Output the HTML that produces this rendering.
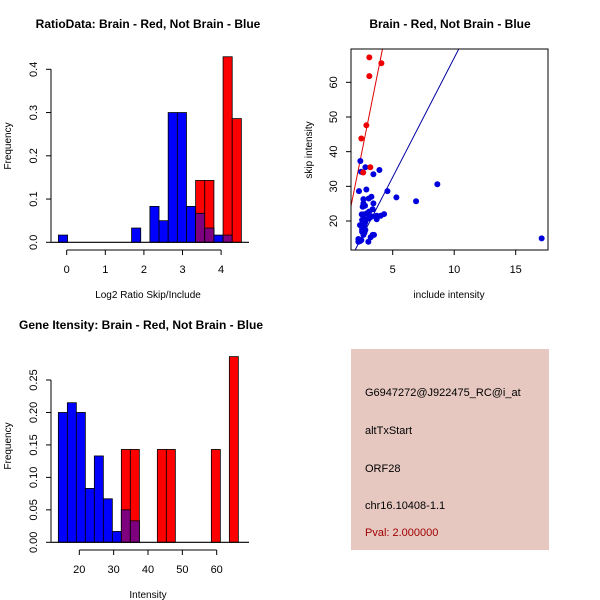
<!DOCTYPE html>
<html><head><meta charset="utf-8"><style>
html,body{margin:0;padding:0;background:#fff;}
svg{display:block;font-family:"Liberation Sans",sans-serif;}
</style></head><body>
<svg id="s" width="600" height="600" viewBox="0 0 600 600" xmlns="http://www.w3.org/2000/svg">
<rect width="600" height="600" fill="#fff"/>
<g id="p1"></g>
<g id="p2"></g>
<g id="p3"></g>
<g>
<rect x="351" y="349" width="198" height="201" fill="#e6c8c1"/>
<text x="365" y="396" font-size="11" fill="#000">G6947272@J922475_RC@i_at</text>
<text x="365" y="434" font-size="11" fill="#000">altTxStart</text>
<text x="365" y="472" font-size="11" fill="#000">ORF28</text>
<text x="365" y="509" font-size="11" fill="#000">chr16.10408-1.1</text>
<text x="365" y="536" font-size="11" fill="#a00000">Pval: 2.000000</text>
</g>
</svg>
<script>
// ---- Plot 1 data ----
const p1Breaks0 = -0.215, p1BinW = 0.237;
const p1Blue = [0.0167,0,0,0,0,0,0,0,0.033,0,0.083,0.05,0.3,0.3,0.083,0.067,0.033,0.0167,0.0167,0];
const p1Red  = [0,0,0,0,0,0,0,0,0,0,0,0,0,0,0,0.143,0.143,0,0.429,0.286];
const p1XTicks = [0,1,2,3,4];
const p1YTicks = ["0.0","0.1","0.2","0.3","0.4"];
// ---- Plot 3 data ----
const p3Breaks0 = 13.9, p3BinW = 2.62;
const p3Blue = [0.2,0.215,0.2,0.083,0.133,0.067,0.0167,0.05,0.033,0,0,0,0,0,0,0,0,0,0,0];
const p3Red  = [0,0,0,0,0,0,0,0.143,0.143,0,0,0.143,0.143,0,0,0,0,0.143,0,0.286];
const p3XTicks = [20,30,40,50,60];
const p3YTicks = ["0.00","0.05","0.10","0.15","0.20","0.25"];
// ---- Plot 2 data ----
const redX = [3.1,3.1,4.08,2.86,2.45,2.6,3.18];
const redY = [67.2,61.8,65.5,47.6,43.8,34.0,35.5];
const blueX = [2.37,2.43,2.78,3.92,3.43,2.26,2.86,4.57,8.63,5.30,6.90,17.11,3.27,3.05,2.62,2.62,3.43,2.75,2.56,3.37,3.08,2.89,2.62,2.48,3.70,3.29,3.10,2.89,2.62,2.51,4.30,4.02,3.70,2.75,2.34,2.51,2.67,2.51,2.78,2.51,2.70,2.62,3.37,3.21,3.02,2.21,2.34,2.21,2.45,3.48];
const blueY = [37.3,34.2,35.5,34.7,33.5,28.6,29.1,28.6,30.6,26.8,25.7,15.0,27.0,26.5,26.3,25.1,25.1,24.4,24.1,23.4,22.7,22.2,21.9,21.9,21.5,21.3,20.8,20.5,20.8,20.3,22.0,21.5,20.5,19.5,18.8,18.4,18.8,17.6,17.4,16.9,16.6,16.0,16.0,15.3,14.0,14.8,14.2,14.0,14.5,16.0];
const redLine = [17.7,-4.2];   // slope, intercept
const blueLine = [6.88,-1.75];
const p2XTicks = [5,10,15];
const p2YTicks = [20,30,40,50,60];

const NS="http://www.w3.org/2000/svg";
function mk(parent,tag,attrs){const e=document.createElementNS(NS,tag);for(const k in attrs)e.setAttribute(k,attrs[k]);parent.appendChild(e);return e;}
function txt(parent,x,y,s,size,extra){const t=mk(parent,'text',Object.assign({x:x,y:y,'font-size':size,fill:'#000'},extra||{}));t.textContent=s;return t;}

function hist(g,o){
  const sx=v=>o.x0px+(v-o.x0)*o.xpu, sy=v=>o.y0px-v*o.ypu;
  for(let i=0;i<o.blue.length;i++){
    const a=o.b0+i*o.bw, b=a+o.bw;
    const vals=[[o.blue[i],'#0000ff','bar-blue'],[o.red[i],'#ff0000','bar-red'],[Math.min(o.blue[i],o.red[i]),'#7f007f','bar-overlap']];
    for(const [v,c,n] of vals){ if(v<=0) continue;
      const r=mk(g,'rect',{x:sx(a),y:sy(v),width:sx(b)-sx(a),height:sy(0)-sy(v),fill:c,stroke:'#000','stroke-width':0.8});
      
      
    }
  }
  const bl=mk(g,'line',{x1:o.axLeft,x2:o.axRight,y1:sy(0),y2:sy(0),stroke:'#000','stroke-width':1.2});
  
  
  const xa=mk(g,'g',{});
  
  
  const xt=o.xticks;
  mk(xa,'line',{x1:sx(xt[0]),x2:sx(xt[xt.length-1]),y1:o.xAxisY,y2:o.xAxisY,stroke:'#000','stroke-width':1});
  xt.forEach(v=>{mk(xa,'line',{x1:sx(v),x2:sx(v),y1:o.xAxisY,y2:o.xAxisY+5,stroke:'#000'});
    txt(xa,sx(v),o.xAxisY+23,String(v),11,{'text-anchor':'middle'});});
  const ya=mk(g,'g',{});
  
  
  const yt=o.yticks;
  mk(ya,'line',{x1:o.yAxisX,x2:o.yAxisX,y1:sy(+yt[0]),y2:sy(+yt[yt.length-1]),stroke:'#000'});
  yt.forEach(v=>{const y=sy(+v);mk(ya,'line',{x1:o.yAxisX-5,x2:o.yAxisX,y1:y,y2:y,stroke:'#000'});
    txt(ya,o.yAxisX-14,y,v,11,{'text-anchor':'middle',transform:`rotate(-90 ${o.yAxisX-14} ${y})`});});
}

const g1=document.getElementById('p1');
hist(g1,{blue:p1Blue,red:p1Red,b0:p1Breaks0,bw:p1BinW,x0:0,x0px:66.7,xpu:38.6,y0px:242.3,ypu:432.5,axLeft:51,axRight:249,xAxisY:250,yAxisX:51,xticks:p1XTicks,yticks:p1YTicks});
let t=txt(g1,148,28,'RatioData: Brain - Red, Not Brain - Blue',12,{'font-weight':'bold','text-anchor':'middle'});

t=txt(g1,148,298,'Log2 Ratio Skip/Include',10,{'text-anchor':'middle'});

t=txt(g1,11,146,'Frequency',10,{'text-anchor':'middle',transform:'rotate(-90 11 146)'});


const g3=document.getElementById('p3');
hist(g3,{blue:p3Blue,red:p3Red,b0:p3Breaks0,bw:p3BinW,x0:20,x0px:79.3,xpu:3.435,y0px:542.3,ypu:649.2,axLeft:51,axRight:249,xAxisY:550,yAxisX:51,xticks:p3XTicks,yticks:p3YTicks});
t=txt(g3,141,329,'Gene Itensity: Brain - Red, Not Brain - Blue',12,{'font-weight':'bold','text-anchor':'middle'});

t=txt(g3,148,598,'Intensity',10,{'text-anchor':'middle'});

t=txt(g3,11,446,'Frequency',10,{'text-anchor':'middle',transform:'rotate(-90 11 446)'});


const g2=document.getElementById('p2');
const L=351,R=548,T=49,B=250;
const sx2=v=>392.7+(v-5)*12.3, sy2=v=>221-(v-20)*3.467;
const cp=mk(g2,'clipPath',{id:'c2'});mk(cp,'rect',{x:L,y:T,width:R-L,height:B-T});
const lines=mk(g2,'g',{'clip-path':'url(#c2)'});
[[redLine,'#e00000','red-fit-line'],[blueLine,'#0000a0','blue-fit-line']].forEach(([ln,c,n])=>{
  const x1=0,x2=25;
  const l=mk(lines,'line',{x1:sx2(x1),y1:sy2(ln[0]*x1+ln[1]),x2:sx2(x2),y2:sy2(ln[0]*x2+ln[1]),stroke:c,'stroke-width':1});
  
  
});
for(let i=0;i<blueX.length;i++){
  const c=mk(g2,'circle',{cx:sx2(blueX[i]),cy:sy2(blueY[i]),r:3,fill:'#0000dd'});
  
  
}
for(let i=0;i<redX.length;i++){
  const c=mk(g2,'circle',{cx:sx2(redX[i]),cy:sy2(redY[i]),r:3,fill:'#ee0000'});
  
  
}
const box=mk(g2,'rect',{x:L,y:T,width:R-L,height:B-T,fill:'none',stroke:'#000','stroke-width':1});


p2XTicks.forEach(v=>{mk(g2,'line',{x1:sx2(v),x2:sx2(v),y1:B,y2:B+5,stroke:'#000'});txt(g2,sx2(v),B+23,String(v),11,{'text-anchor':'middle'});});
p2YTicks.forEach(v=>{const y=sy2(v);mk(g2,'line',{x1:L-5,x2:L,y1:y,y2:y,stroke:'#000'});txt(g2,L-14,y,String(v),11,{'text-anchor':'middle',transform:`rotate(-90 ${L-14} ${y})`});});
t=txt(g2,450,28,'Brain - Red, Not Brain - Blue',12,{'font-weight':'bold','text-anchor':'middle'});

t=txt(g2,449,298,'include intensity',10,{'text-anchor':'middle'});

t=txt(g2,312,150,'skip intensity',10,{'text-anchor':'middle',transform:'rotate(-90 312 150)'});

</script>
</body></html>
